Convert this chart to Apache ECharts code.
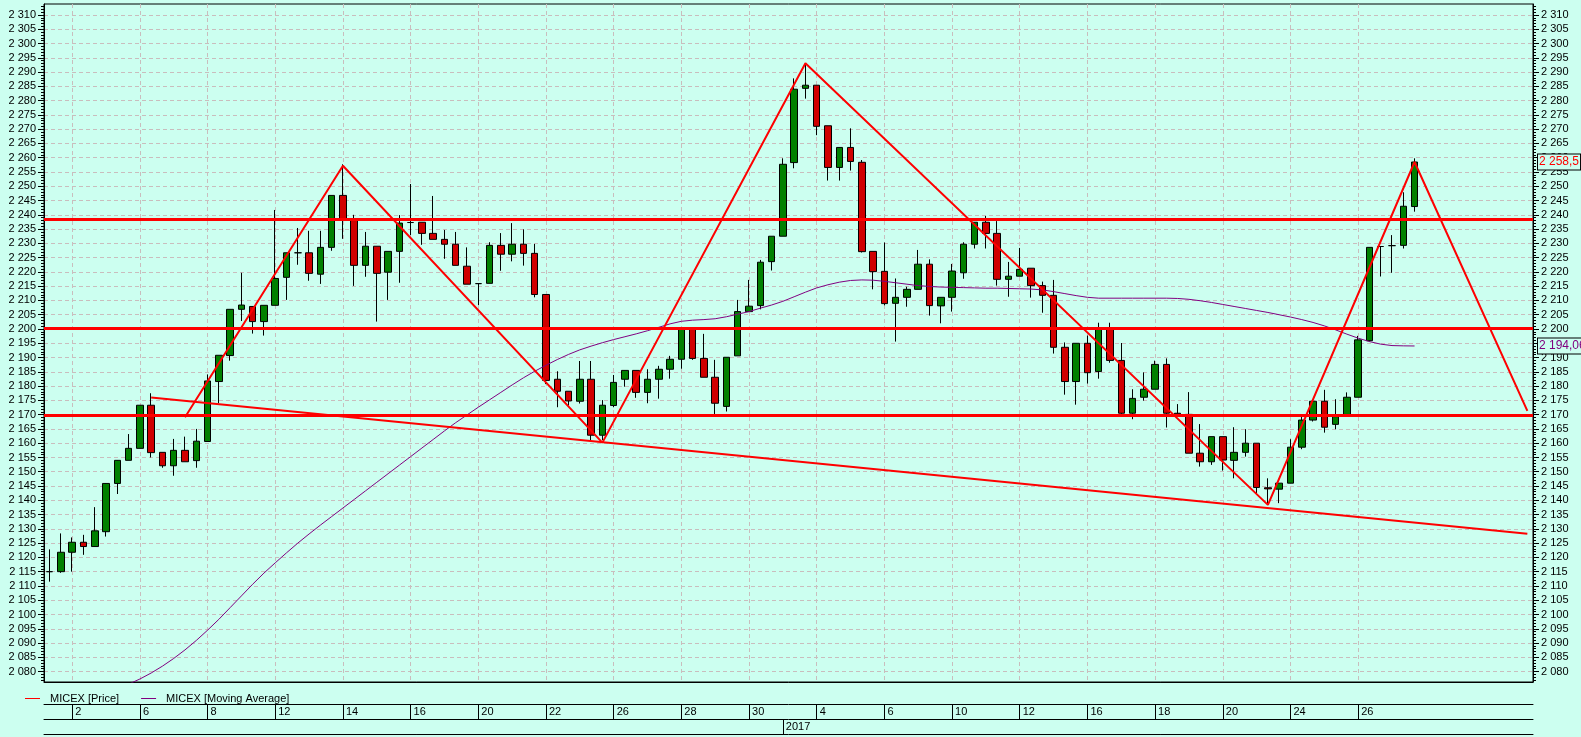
<!DOCTYPE html>
<html>
<head>
<meta charset="utf-8">
<script src="https://cdn.jsdelivr.net/npm/echarts@6/dist/echarts.min.js"></script>
<style>
html,body{margin:0;padding:0;background:#ccfff0;}
#chart{width:1581px;height:737px;}
</style>
</head>
<body>
<div id="chart"></div>
<script>
// ---- data ----
const opens = [2115.0,2115.0,2121.8,2125.3,2123.8,2129.0,2145.9,2154.0,2158.2,2173.3,
2156.8,2152.1,2157.5,2153.9,2160.6,2181.6,2190.7,2206.9,2207.9,2202.6,
2208.3,2218.1,2226.7,2226.7,2219.2,2228.6,2246.8,2238.2,2222.3,2229.0,
2219.9,2227.2,2237.3,2237.4,2233.5,2231.4,2229.7,2222.0,2215.9,2216.0,
2229.3,2226.2,2229.7,2226.5,2212.1,2182.4,2178.2,2174.7,2182.4,2162.8,
2173.2,2182.4,2185.5,2177.8,2182.4,2185.9,2189.4,2200.5,2189.7,2183.1,
2172.9,2190.6,2206.1,2208.2,2223.6,2232.5,2258.3,2284.3,2285.4,2271.2,
2256.6,2263.6,2258.4,2227.2,2220.2,2209.0,2211.1,2213.9,2222.7,2208.1,
2211.1,2219.7,2229.7,2237.4,2233.5,2217.4,2218.5,2221.3,2215.2,2211.8,
2193.6,2181.6,2195.0,2185.1,2200.5,2189.0,2170.5,2176.1,2178.9,2187.6,
2170.5,2170.1,2156.5,2153.5,2162.3,2154.0,2156.8,2160.0,2144.4,2143.9,
2146.0,2158.6,2168.1,2174.7,2166.6,2169.5,2176.1,2195.9,2228.9,2229.2,
2229.3,2242.9];
const closes = [2115.0,2121.8,2125.3,2123.8,2129.3,2145.9,2154.0,2158.2,2173.3,2156.7,
2152.1,2157.5,2153.5,2160.7,2181.8,2190.8,2206.9,2208.4,2202.6,2208.3,
2217.7,2226.7,2226.7,2219.5,2228.6,2246.8,2238.3,2222.3,2229.0,2219.5,
2227.2,2237.1,2237.3,2233.5,2231.4,2229.7,2222.3,2215.7,2215.9,2229.3,
2226.2,2229.7,2226.5,2212.1,2182.0,2178.2,2174.8,2182.4,2162.8,2173.3,
2181.3,2185.5,2177.8,2182.4,2185.9,2189.4,2200.5,2189.7,2183.1,2174.0,
2190.1,2206.1,2208.0,2223.4,2232.5,2257.7,2284.0,2285.4,2271.0,2256.6,
2263.6,2258.7,2227.1,2220.1,2208.9,2211.1,2213.9,2222.7,2208.2,2211.1,
2220.3,2229.7,2237.4,2233.5,2217.4,2218.5,2220.9,2215.2,2211.8,2193.6,
2181.6,2195.0,2184.7,2200.5,2189.0,2170.5,2175.7,2178.9,2187.6,2170.5,
2170.2,2156.5,2153.5,2162.3,2154.1,2156.8,2160.0,2144.5,2144.0,2146.0,
2158.6,2168.1,2174.7,2165.6,2169.3,2176.1,2196.2,2228.6,2228.9,2229.2,
2243.0,2258.5];
const lows = [2111.5,2114.6,2115.0,2120.9,2123.7,2127.3,2142.2,2154.0,2158.2,2155.0,
2151.4,2148.6,2153.5,2151.4,2160.6,2174.0,2188.9,2202.8,2198.4,2197.7,
2208.3,2210.2,2222.5,2216.9,2215.8,2227.4,2231.6,2215.1,2218.3,2202.6,
2210.2,2216.2,2232.9,2229.5,2231.4,2224.6,2222.3,2215.7,2208.4,2216.0,
2220.4,2223.7,2222.2,2211.1,2180.7,2172.6,2173.2,2173.9,2161.1,2161.1,
2172.6,2179.8,2175.9,2174.0,2175.6,2182.6,2186.1,2189.2,2183.1,2170.0,
2171.1,2190.6,2206.1,2206.9,2220.5,2232.5,2256.3,2280.7,2267.9,2252.0,
2252.0,2255.5,2226.8,2213.9,2208.3,2195.6,2207.8,2213.9,2204.7,2202.0,
2206.1,2217.6,2228.2,2228.2,2215.2,2211.3,2218.5,2211.0,2205.7,2191.4,
2177.0,2173.5,2180.9,2182.6,2188.2,2170.1,2168.4,2174.9,2178.9,2165.5,
2170.1,2156.5,2151.8,2152.4,2150.4,2147.7,2155.3,2142.5,2138.4,2139.0,
2146.0,2157.9,2167.6,2163.7,2164.9,2169.5,2176.1,2195.6,2218.4,2219.7,
2228.2,2241.1];
const highs = [2122.8,2128.4,2127.0,2127.9,2137.6,2146.0,2154.1,2163.2,2173.3,2177.5,
2156.8,2161.5,2162.3,2165.0,2184.1,2190.8,2206.9,2219.7,2207.9,2208.3,
2241.7,2226.7,2235.4,2234.4,2234.4,2246.8,2257.7,2240.0,2234.0,2229.0,
2227.2,2239.9,2250.8,2237.4,2246.6,2234.7,2234.0,2228.6,2215.9,2230.4,
2233.6,2237.1,2234.9,2229.8,2212.1,2185.2,2178.2,2188.8,2188.8,2175.1,
2183.9,2185.5,2185.5,2185.9,2187.1,2190.6,2200.5,2200.5,2198.3,2189.2,
2190.1,2210.2,2217.2,2224.2,2232.5,2259.8,2287.8,2293.1,2285.4,2271.2,
2263.6,2270.3,2259.2,2227.2,2230.3,2217.7,2214.8,2227.7,2224.4,2211.1,
2222.8,2230.4,2237.4,2239.6,2237.8,2223.5,2228.4,2221.3,2216.6,2217.2,
2195.3,2195.0,2197.7,2202.2,2202.2,2195.1,2178.9,2184.8,2188.9,2189.7,
2173.7,2177.9,2166.7,2162.3,2162.3,2165.6,2164.9,2160.0,2147.7,2146.0,
2161.4,2169.3,2174.7,2178.7,2175.4,2177.8,2197.6,2228.6,2228.9,2232.9,
2247.9,2259.8];
const maValues = ['-','-','-','-','-','-','-',2075.6,2077.4,2079.5,
2081.9,2084.6,2087.6,2090.9,2094.5,2098.3,2102.4,2106.5,2110.6,2114.5,
2118.1,2121.6,2125.0,2128.2,2131.3,2134.3,2137.3,2140.3,2143.3,2146.3,
2149.3,2152.3,2155.3,2158.3,2161.3,2164.3,2167.2,2169.9,2172.6,2175.2,
2177.8,2180.4,2182.9,2185.2,2187.3,2189.3,2191.1,2192.7,2194.0,2195.2,
2196.3,2197.3,2198.3,2199.4,2200.6,2201.8,2202.7,2203.1,2203.3,2203.6,
2204.3,2205.2,2206.1,2207.3,2208.4,2209.7,2211.3,2212.9,2214.4,2215.5,
2216.4,2217.0,2217.2,2217.1,2216.7,2216.2,2215.7,2215.2,2214.9,2214.7,
2214.6,2214.5,2214.4,2214.3,2214.3,2214.2,2214.1,2214.0,2213.7,2213.1,
2212.4,2211.7,2211.1,2210.8,2210.8,2210.8,2210.8,2210.8,2210.8,2210.8,
2210.7,2210.4,2209.9,2209.3,2208.6,2207.9,2207.2,2206.5,2205.8,2205.0,
2204.2,2203.3,2202.3,2201.1,2199.7,2198.2,2196.8,2195.6,2194.7,2194.2,
2194.1,2194.06];
const dateLabels = ['2','6','8','12','14','16','20','22','26','28','30','4','6','10','12','16','18','20','24','26'];
const firstLabelSlot = 2;
const labelStep = 6;
const slotCount = 132;          // candles + empty projection space
const yearLabel = '2017';
const yearSlot = 65;
const levelValues = [2238.3, 2200.3, 2169.7];
const zigzagSlots = [12, 26, 49, 67, 108, 121, 131];
const zigzagValues = [2169.1, 2257.2, 2160.2, 2293.1, 2138.4, 2258.5, 2171.3];
const trendSlots = [9, 131];
const trendValues = [2176.0, 2128.3];
const yMin = 2076.35, yMax = 2313.85;
const majorTicks = []; for (let v = 2080; v <= 2310; v += 5) majorTicks.push(v);
const minorTicks = []; for (let v = 2077; v <= 2313; v += 1) minorTicks.push(v);

// ---- build ----
const categories = [];
for (let i = 0; i < slotCount; i++) {
  const k = (i - firstLabelSlot) / labelStep;
  categories.push(Number.isInteger(k) && k >= 0 && k < dateLabels.length ? dateLabels[k] : '');
}
const isLabelSlot = (i) => categories[i] !== '';
const isYearSlot = (i) => i === yearSlot;
const candleData = opens.map((o, i) => [o, closes[i], lows[i], highs[i]]);
const fmtInt = (v) => { const s = String(Math.round(v)); return s.slice(0, s.length - 3) + ' ' + s.slice(-3); };
const fmtDec = (v) => { const parts = String(v).split('.'); return fmtInt(+parts[0]) + (parts[1] ? ',' + parts[1] : ''); };

const FONT = 'Liberation Sans, Arial, sans-serif';
const GRID_COLOR = '#c9bdbd';
const BG = '#ccfff0';

const majorAxis = (pos, showSplit) => ({
  type: 'value', position: pos, min: yMin, max: yMax, gridIndex: 0,
  axisLine: { show: true, onZero: false, lineStyle: { color: '#000', width: 1 } },
  axisTick: { show: true, length: 6, customValues: majorTicks, lineStyle: { color: '#000' } },
  axisLabel: { show: true, customValues: majorTicks, formatter: fmtInt, color: '#000', fontSize: 11, fontFamily: FONT, margin: 8 },
  splitLine: { show: showSplit, lineStyle: { color: GRID_COLOR, type: [4, 3], width: 1 } },
  minorTick: { show: false }, minorSplitLine: { show: false }
});
const minorAxis = (pos) => ({
  type: 'value', position: pos, min: yMin, max: yMax, gridIndex: 0,
  axisLine: { show: false },
  axisTick: { show: true, length: 3, customValues: minorTicks, lineStyle: { color: '#000' } },
  axisLabel: { show: false },
  splitLine: { show: false }
});
const catAxis = (extra) => Object.assign({
  type: 'category', data: categories, boundaryGap: true, position: 'bottom', gridIndex: 0
}, extra);
const priceBoxLabel = (color) => ({
  show: true, position: 'end', distance: 5, formatter: (p) => fmtDec(p.value), color: color, fontSize: 12, fontFamily: FONT,
  backgroundColor: BG, borderColor: '#000', borderWidth: 1, padding: [2, 1, 1, 1]
});

const chart = echarts.init(document.getElementById('chart'), null, { renderer: 'canvas' });
chart.setOption({
  animation: false,
  backgroundColor: BG,
  textStyle: { fontFamily: FONT },
  grid: { left: 44, top: 4, width: 1489, height: 678, show: true, borderColor: '#000', borderWidth: 1,
          backgroundColor: 'transparent', containLabel: false, outerBoundsMode: 'none' },
  legend: {
    left: 20, top: 688, itemWidth: 15, itemHeight: 1, itemGap: 22, icon: 'rect',
    textStyle: { fontSize: 11, color: '#000', fontFamily: FONT, padding: [0, 0, 0, 5] },
    data: [
      { name: 'MICEX [Price]', icon: 'rect', itemStyle: { color: '#ff0000', borderWidth: 0 } },
      { name: 'MICEX [Moving Average]', icon: 'rect', itemStyle: { color: '#800080', borderWidth: 0 } }
    ],
    selectedMode: false
  },
  xAxis: [
    catAxis({
      axisLine: { show: true, onZero: false, lineStyle: { color: '#000' } },
      axisTick: { show: false }, axisLabel: { show: false },
      splitLine: { show: true, alignWithLabel: true, interval: isLabelSlot, lineStyle: { color: GRID_COLOR, type: [4, 3], width: 1 } }
    }),
    catAxis({
      offset: 22,
      axisLine: { show: true, onZero: false, lineStyle: { color: '#000' } },
      axisTick: { show: true, alignWithLabel: true, interval: isLabelSlot, length: 15, lineStyle: { color: '#000' } },
      axisLabel: { show: true, interval: isLabelSlot, align: 'left', padding: [0, 0, 0, 3], margin: 2, color: '#000', fontSize: 11, fontFamily: FONT },
      splitLine: { show: false }
    }),
    catAxis({
      offset: 37,
      axisLine: { show: true, onZero: false, lineStyle: { color: '#000' } },
      axisTick: { show: true, alignWithLabel: true, interval: isYearSlot, length: 15, lineStyle: { color: '#000' } },
      axisLabel: { show: true, interval: isYearSlot, formatter: (v, i) => (i === yearSlot ? yearLabel : ''), align: 'left', padding: [0, 0, 0, 3], margin: 2, color: '#000', fontSize: 11, fontFamily: FONT },
      splitLine: { show: false }
    }),
    catAxis({
      offset: 52,
      axisLine: { show: true, onZero: false, lineStyle: { color: '#000' } },
      axisTick: { show: false }, axisLabel: { show: false }, splitLine: { show: false }
    })
  ],
  yAxis: [majorAxis('left', true), minorAxis('left'), majorAxis('right', false), minorAxis('right')],
  series: [
    {
      name: 'MICEX [Price]', type: 'candlestick', xAxisIndex: 0, yAxisIndex: 0,
      data: candleData, barWidth: 7, silent: true, z: 2,
      itemStyle: { color: '#008000', color0: '#d00000', borderColor: '#000', borderColor0: '#000', borderColorDoji: '#000', borderWidth: 1 },
      markLine: {
        silent: true, symbol: ['none', 'none'], animation: false, z: 10,
        lineStyle: { color: 'rgba(0,0,0,0)', width: 1, type: 'solid' },
        label: priceBoxLabel('#ff0000'),
        emphasis: { disabled: true },
        data: [{ yAxis: closes[closes.length - 1] }]
      }
    },
    {
      name: 'MICEX [Moving Average]', type: 'line', xAxisIndex: 0, yAxisIndex: 0,
      data: maValues, showSymbol: false, symbol: 'none', silent: true, z: 3, clip: true,
      lineStyle: { color: '#800080', width: 1 }, itemStyle: { color: '#800080' },
      markLine: {
        silent: true, symbol: ['none', 'none'], animation: false, z: 10,
        lineStyle: { color: 'rgba(0,0,0,0)', width: 1, type: 'solid' },
        label: priceBoxLabel('#800080'),
        emphasis: { disabled: true },
        data: [{ yAxis: maValues[maValues.length - 1] }]
      }
    },
    {
      name: 'zigzag', type: 'line', xAxisIndex: 0, yAxisIndex: 0,
      data: zigzagSlots.map((s, i) => [s, zigzagValues[i]]),
      showSymbol: false, symbol: 'none', silent: true, z: 4,
      lineStyle: { color: '#ff0000', width: 2 },
      markLine: {
        silent: true, symbol: ['none', 'none'], animation: false,
        label: { show: false },
        lineStyle: { color: '#ff0000', width: 3, type: 'solid' },
        data: levelValues.map((v) => ({ yAxis: v }))
      }
    },
    {
      name: 'trend', type: 'line', xAxisIndex: 0, yAxisIndex: 0,
      data: trendSlots.map((s, i) => [s, trendValues[i]]),
      showSymbol: false, symbol: 'none', silent: true, z: 4,
      lineStyle: { color: '#ff0000', width: 2 }
    }
  ]
});
</script>
</body>
</html>
